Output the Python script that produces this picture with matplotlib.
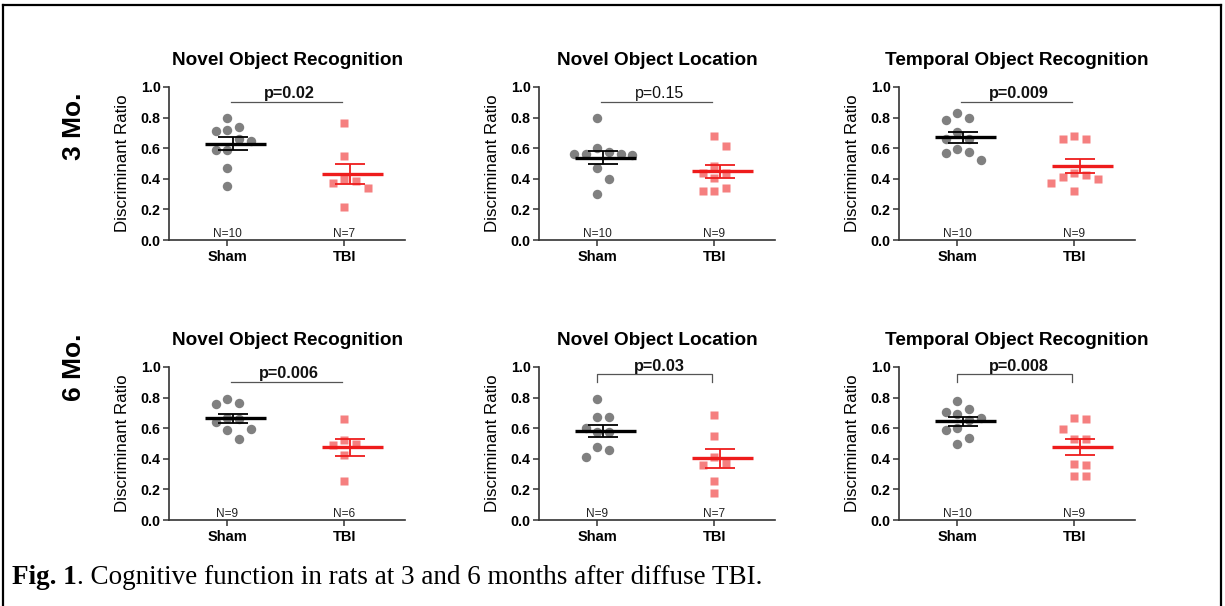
import matplotlib
matplotlib.use("Agg")
import matplotlib.pyplot as plt
import numpy as np
from matplotlib.lines import Line2D

plt.rcParams['font.family'] = ['Liberation Sans', 'DejaVu Sans']

groups = ["Sham", "TBI"]
tests = ["Novel Object Recognition", "Novel Object Location", "Temporal Object Recognition"]
row_labels = ["3 Mo.", "6 Mo."]

# 3 months
nor3_sham = [0.80, 0.74, 0.72, 0.71, 0.66, 0.65, 0.59, 0.59, 0.47, 0.35]
nor3_tbi = [0.765, 0.55, 0.40, 0.387, 0.37, 0.34, 0.213]
nol3_sham = [0.80, 0.60, 0.575, 0.565, 0.565, 0.56, 0.555, 0.47, 0.40, 0.30]
nol3_tbi = [0.678, 0.613, 0.483, 0.435, 0.439, 0.402, 0.341, 0.32, 0.322]
tor3_sham = [0.83, 0.80, 0.787, 0.707, 0.663, 0.659, 0.593, 0.576, 0.57, 0.522]
tor3_tbi = [0.678, 0.657, 0.659, 0.44, 0.425, 0.396, 0.409, 0.374, 0.322]
# 6 months
nor6_sham = [0.789, 0.757, 0.765, 0.663, 0.64, 0.667, 0.598, 0.591, 0.528]
nor6_tbi = [0.663, 0.526, 0.50, 0.49, 0.424, 0.254]
nol6_sham = [0.793, 0.674, 0.674, 0.604, 0.576, 0.576, 0.474, 0.457, 0.413]
nol6_tbi = [0.685, 0.55, 0.413, 0.374, 0.36, 0.258, 0.174]
tor6_sham = [0.776, 0.724, 0.707, 0.691, 0.667, 0.652, 0.60, 0.591, 0.533, 0.50]
tor6_tbi = [0.667, 0.657, 0.598, 0.528, 0.528, 0.365, 0.359, 0.289, 0.287]

panel_data = [[(nor3_sham, nor3_tbi), (nol3_sham, nol3_tbi), (tor3_sham, tor3_tbi)],
              [(nor6_sham, nor6_tbi), (nol6_sham, nol6_tbi), (tor6_sham, tor6_tbi)]]
p_labels = [["p=0.02", "p=0.15", "p=0.009"], ["p=0.006", "p=0.03", "p=0.008"]]
p_bold = [[True, False, True], [True, True, True]]
p_bracket = [[False, False, False], [False, True, True]]


def swarm(vals, center, xs_px=117.0, ys_px=153.0, dmin=11.0, step=0.1):
    vals = np.asarray(vals)
    xs = np.zeros(len(vals))
    placed = []
    for i in np.argsort(-vals):
        y = vals[i] * ys_px
        offs = [0.0]
        for k in range(1, 8):
            offs += [k * step, -k * step]
        for off in offs:
            x = off * xs_px
            if all((x - px) ** 2 + (y - py) ** 2 >= dmin ** 2 for px, py in placed):
                break
        placed.append((x, y))
        xs[i] = center + off
    return xs


fig = plt.figure(figsize=(12.25, 6.06), dpi=100)
W, H = 1225, 606
lefts = [169, 539, 899]
tops = [87, 367]
aw, ah = 236, 153

colors_pt = ["#808080", "#f57f7f"]
colors_mean = ["#000000", "#ee1c1c"]
markers = ["o", "s"]
msizes = [6.8, 6.0]

for r in range(2):
    for c in range(3):
        ax = fig.add_axes([lefts[c] / W, 1 - (tops[r] + ah) / H, aw / W, ah / H])
        for g in range(2):
            vals = np.array(panel_data[r][c][g])
            xs = swarm(vals, g)
            ax.plot(xs, vals, linestyle="none", marker=markers[g], ms=msizes[g],
                    color=colors_pt[g], mec="none", zorder=2)
            m = vals.mean()
            sem = vals.std(ddof=1) / np.sqrt(len(vals))
            ax.plot([g - 0.19, g + 0.33], [m, m], color=colors_mean[g], lw=2.4,
                    zorder=3, solid_capstyle="butt")
            ax.errorbar([g + 0.05], [m], yerr=[sem], color=colors_mean[g], lw=1.3,
                        capsize=10.5, capthick=1.3, zorder=3)
            ax.text(g, 0.02, "N=%d" % len(vals), ha="center", va="baseline",
                    fontsize=8.6, color="#222222")
        # significance line
        if p_bracket[r][c]:
            ax.plot([0, 0, 0.98, 0.98], [0.9, 0.955, 0.955, 0.9], color="#555555",
                    lw=0.9, clip_on=False)
            ty = 0.975
        else:
            ax.plot([0.03, 0.98], [0.905, 0.905], color="#555555", lw=0.9, clip_on=False)
            ty = 0.93
        ax.text(0.53, ty, p_labels[r][c], ha="center", va="baseline",
                fontsize=11.7 if p_bold[r][c] else 11.5,
                fontweight="bold" if p_bold[r][c] else "normal", color="#111111")
        ax.set_xlim(-0.5, 1.52)
        ax.set_ylim(0, 1.0)
        ax.set_xticks([0, 1])
        ax.set_xticklabels(groups, fontweight="bold", fontsize=10.5)
        ax.set_yticks(np.arange(0, 1.01, 0.2))
        ax.set_yticklabels(["%.1f" % v for v in np.arange(0, 1.01, 0.2)],
                           fontweight="bold", fontsize=10.3)
        ax.tick_params(direction="out", length=4, width=1.1, color="#333333", pad=2)
        ax.tick_params(axis="x", pad=3)
        for s in ["top", "right"]:
            ax.spines[s].set_visible(False)
        for s in ["left", "bottom"]:
            ax.spines[s].set_linewidth(1.2)
            ax.spines[s].set_color("#333333")
        ax.set_ylabel("Discriminant Ratio", fontsize=12.2, labelpad=8)
        ax.set_title(tests[c], fontsize=13.7, fontweight="bold", pad=16)

# row labels
for r, lab in enumerate(row_labels):
    fig.text(74 / W, 1 - [126, 367][r] / H, lab, rotation=90, ha="center", va="center",
             fontsize=19, fontweight="bold")

# border
for xy in [([3 / W, 3 / W], [0, 1 - 5 / H]), ([3 / W, 1221 / W], [1 - 5 / H, 1 - 5 / H]),
           ([1221 / W, 1221 / W], [0, 1 - 5 / H])]:
    fig.add_artist(Line2D(xy[0], xy[1], color="black", lw=1.6, transform=fig.transFigure))

# caption
t1 = fig.text(12 / W, 1 - 584 / H, "Fig. 1", fontsize=19.5, fontweight="bold",
              family="Liberation Serif", va="baseline")
fig.canvas.draw()
bb = t1.get_window_extent()
fig.text(bb.x1 / W, 1 - 584 / H, ". Cognitive function in rats at 3 and 6 months after diffuse TBI.",
         fontsize=19.5, family="Liberation Serif", va="baseline")

fig.savefig("out.png", dpi=100)
